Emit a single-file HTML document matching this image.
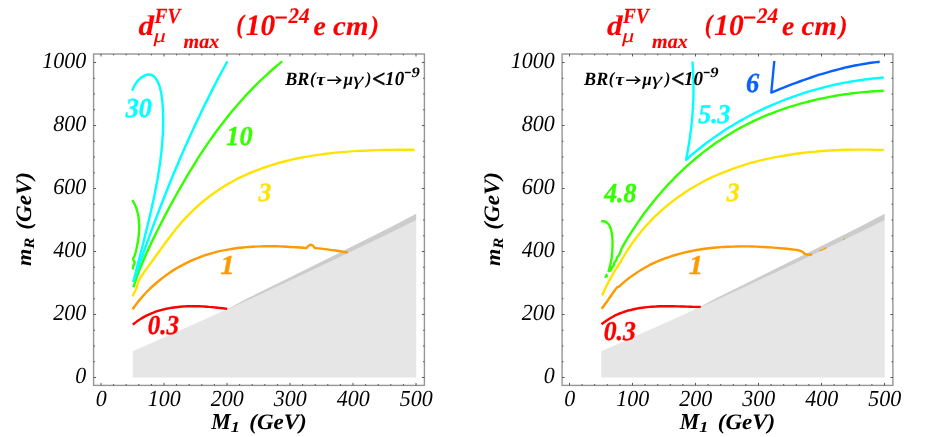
<!DOCTYPE html>
<html><head><meta charset="utf-8">
<style>
html,body{margin:0;padding:0;background:#fff;}
svg{display:block;will-change:transform;}
text{font-family:"Liberation Serif",serif;font-style:italic;fill:#000;text-rendering:geometricPrecision;}
.b{font-weight:bold;}
.n{font-weight:normal;}
.tk{font-size:23px;}
</style></head><body>
<svg width="926" height="437" viewBox="0 0 926 437">
<rect width="926" height="437" fill="#fff"/>
<g transform="translate(0,0)">
<polygon points="132.8,377.5 132.8,351.2 150.5,343.4 168.2,335.6 185.9,327.7 203.7,319.8 221.4,311.8 239.1,303.7 256.8,295.6 274.5,287.4 292.2,279.1 309.9,270.8 327.6,262.5 345.4,254.1 363.1,245.6 380.8,237.1 398.5,228.5 416.2,219.8 416.2,377.5" fill="#e6e6e6"/>
<polygon points="226.0,309.7 236.0,304.4 248.0,298.1 276.0,284.2 331.0,257.0 391.0,226.9 416.2,213.7 416.2,220.1 391.0,232.4 331.0,261.2 276.0,287.0 248.0,299.9 236.0,305.4 226.0,310.0" fill="#cccccc"/>
<path transform="translate(0,0)" d="M132.8,324.6C134.1,323.6 135.3,322.6 136.6,321.6C137.8,320.7 139.1,319.8 140.5,319.0C141.8,318.2 143.1,317.4 144.5,316.6C145.9,315.9 147.3,315.2 148.7,314.6C150.1,313.9 151.5,313.3 152.9,312.8C154.4,312.2 155.8,311.7 157.3,311.2C158.8,310.7 160.3,310.3 161.8,309.9C163.3,309.5 164.8,309.1 166.3,308.8C167.8,308.5 169.4,308.2 170.9,307.9C172.5,307.7 174.0,307.4 175.6,307.2C177.2,307.0 178.7,306.9 180.3,306.7C181.9,306.6 183.4,306.5 185.0,306.4C186.6,306.3 188.2,306.3 189.8,306.2C191.4,306.2 193.0,306.2 194.6,306.2C196.1,306.2 197.7,306.3 199.3,306.3C200.9,306.4 202.5,306.4 204.1,306.5C205.6,306.6 207.2,306.7 208.8,306.9C210.4,307.0 211.9,307.1 213.5,307.3C215.0,307.4 216.6,307.6 218.1,307.8C219.6,307.9 221.2,308.1 222.7,308.3C224.2,308.5 225.7,308.7 227.2,308.9" fill="none" stroke="#ff0000" stroke-width="2.4" stroke-linecap="butt" stroke-linejoin="round"/>
<path transform="translate(0,0)" d="M132.5,309.2C133.9,307.4 135.2,305.5 136.6,303.7C138.0,301.9 139.4,300.1 140.9,298.4C142.3,296.7 143.9,295.0 145.4,293.3C146.9,291.7 148.5,290.1 150.1,288.5C151.7,287.0 153.4,285.5 155.1,284.0C156.7,282.5 158.5,281.1 160.2,279.7C161.9,278.3 163.7,276.9 165.5,275.6C167.3,274.3 169.1,273.1 171.0,271.8C172.8,270.6 174.7,269.5 176.6,268.3C178.5,267.2 180.4,266.1 182.4,265.1C184.3,264.0 186.3,263.0 188.3,262.1C190.3,261.1 192.3,260.2 194.3,259.3C196.4,258.5 198.4,257.7 200.5,256.9C202.6,256.1 204.7,255.4 206.8,254.7C208.9,254.0 211.0,253.4 213.2,252.8C215.3,252.2 217.5,251.7 219.6,251.2C221.8,250.7 224.0,250.3 226.1,249.9C228.3,249.4 230.5,249.1 232.7,248.7C235.0,248.4 237.2,248.1 239.4,247.8C241.6,247.6 243.9,247.3 246.1,247.1C248.3,246.9 250.6,246.8 252.8,246.7C255.1,246.5 257.3,246.4 259.6,246.4C261.8,246.3 264.1,246.2 266.3,246.2C268.6,246.2 270.8,246.2 273.1,246.2C275.3,246.3 277.6,246.3 279.8,246.4C282.1,246.5 284.3,246.6 286.6,246.7C288.8,246.8 291.0,246.9 293.3,247.1C295.5,247.2 297.7,247.4 299.9,247.5C302.1,247.7 304.3,247.9 306.5,248.1L306.5,248.1C307.3,247.2 308.0,246.1 309.0,245.5C309.9,245.0 311.1,244.6 312.0,245.0C313.3,245.6 314.0,247.1 315.0,248.1L315.0,248.1C318.3,248.4 321.7,248.7 325.0,249.1C329.0,249.6 333.0,250.1 337.0,250.7C340.6,251.2 344.1,251.9 347.7,252.5" fill="none" stroke="#ff9900" stroke-width="2.4" stroke-linecap="butt" stroke-linejoin="round"/>
<path transform="translate(0,0)" d="M132.6,296.3C133.3,294.7 134.1,293.2 134.8,291.6C135.5,290.1 136.5,288.6 137.0,287.0C137.4,285.7 137.5,284.3 137.7,283.0L137.7,283.0C138.4,281.6 139.0,280.2 139.8,278.8C140.7,277.2 141.8,275.7 142.8,274.2C143.6,273.0 144.4,271.8 145.2,270.6L145.2,270.6C147.1,268.1 148.9,265.6 150.8,263.1C152.6,260.5 154.5,257.9 156.3,255.4C158.2,252.8 160.0,250.2 161.9,247.6C163.7,245.1 165.6,242.5 167.5,240.0C169.4,237.4 171.3,234.9 173.3,232.4C175.2,229.9 177.2,227.4 179.3,225.0C181.3,222.6 183.4,220.2 185.6,217.9C187.8,215.6 190.0,213.3 192.3,211.1C194.5,208.9 196.9,206.8 199.2,204.7C201.6,202.6 204.0,200.6 206.5,198.7C209.0,196.7 211.5,194.8 214.1,193.0C216.6,191.2 219.2,189.4 221.9,187.7C224.5,186.0 227.2,184.4 230.0,182.9C232.7,181.3 235.4,179.9 238.2,178.4C241.0,177.0 243.9,175.7 246.7,174.4C249.6,173.1 252.5,171.9 255.4,170.8C258.3,169.6 261.2,168.6 264.2,167.5C267.2,166.5 270.2,165.5 273.2,164.6C276.2,163.7 279.2,162.8 282.3,162.0C285.3,161.2 288.4,160.5 291.5,159.7C294.6,159.0 297.7,158.4 300.8,157.8C304.0,157.2 307.1,156.6 310.3,156.1C313.4,155.5 316.6,155.1 319.7,154.6C322.9,154.2 326.1,153.8 329.3,153.4C332.4,153.0 335.6,152.7 338.8,152.4C342.0,152.1 345.2,151.8 348.4,151.6C351.6,151.3 354.8,151.1 358.0,150.9C361.2,150.8 364.3,150.6 367.5,150.5C370.7,150.3 373.9,150.2 377.1,150.1C380.2,150.0 383.4,150.0 386.5,149.9C389.7,149.9 392.8,149.8 395.9,149.8C399.1,149.8 402.2,149.8 405.3,149.8C408.3,149.8 411.4,149.8 414.5,149.8" fill="none" stroke="#ffe300" stroke-width="2.4" stroke-linecap="butt" stroke-linejoin="round"/>
<path transform="translate(0,0)" d="M132.4,200.0C133.0,201.1 133.7,202.2 134.2,203.3C134.8,204.4 135.3,205.6 135.8,206.7C136.2,207.9 136.6,209.1 137.0,210.3C137.3,211.5 137.6,212.7 137.9,214.0C138.2,215.2 138.4,216.5 138.6,217.7C138.8,219.0 138.9,220.2 139.0,221.5C139.1,222.8 139.1,224.1 139.2,225.4C139.2,226.7 139.2,228.0 139.2,229.3C139.1,230.6 139.0,231.9 138.9,233.1C138.8,234.4 138.7,235.7 138.6,237.0C138.4,238.3 138.2,239.6 138.0,240.9C137.8,242.2 137.6,243.4 137.3,244.7C137.1,246.0 136.8,247.2 136.6,248.5C136.3,249.7 136.0,250.9 135.7,252.1C135.4,253.3 135.0,254.5 134.7,255.7L134.7,255.7C134.2,256.8 133.1,257.8 133.1,259.0C133.1,260.3 134.7,261.3 134.7,262.6C134.7,263.8 133.5,264.8 133.2,266.0C132.9,267.1 133.1,268.3 133.0,269.5" fill="none" stroke="#33ff00" stroke-width="2.4" stroke-linecap="butt" stroke-linejoin="round"/>
<path transform="translate(0,0)" d="M282.2,61.4C279.9,63.3 277.6,65.1 275.4,67.0C273.2,68.9 270.9,70.9 268.8,72.8C266.6,74.8 264.4,76.8 262.3,78.8C260.1,80.8 258.0,82.9 255.9,85.0C253.9,87.1 251.8,89.2 249.8,91.3C247.8,93.4 245.7,95.6 243.8,97.8C241.8,99.9 239.8,102.1 237.9,104.4C236.0,106.6 234.1,108.8 232.2,111.1C230.3,113.4 228.5,115.7 226.6,118.0C224.8,120.3 223.0,122.6 221.2,124.9C219.4,127.2 217.6,129.6 215.9,132.0C214.2,134.3 212.5,136.7 210.8,139.1C209.1,141.5 207.4,143.9 205.8,146.4C204.1,148.8 202.5,151.3 200.9,153.7C199.3,156.2 197.7,158.7 196.2,161.2C194.6,163.6 193.1,166.2 191.6,168.7C190.0,171.2 188.5,173.7 187.0,176.2C185.5,178.8 184.0,181.3 182.6,183.9C181.1,186.4 179.6,189.0 178.2,191.5C176.7,194.1 175.3,196.6 173.9,199.2C172.4,201.8 171.0,204.4 169.6,207.0C168.2,209.6 166.8,212.2 165.4,214.8C164.1,217.4 162.7,220.0 161.4,222.6C160.0,225.2 158.7,227.9 157.4,230.5C156.1,233.1 154.8,235.8 153.5,238.4C152.2,241.1 150.9,243.7 149.7,246.4C148.4,249.0 147.2,251.7 146.0,254.4C144.8,257.1 143.6,259.8 142.5,262.5C141.4,265.2 140.3,267.9 139.2,270.6C138.2,273.4 137.1,276.1 136.2,278.9C135.2,281.7 134.3,284.5 133.4,287.3" fill="none" stroke="#33ff00" stroke-width="2.4" stroke-linecap="butt" stroke-linejoin="round"/>
<path transform="translate(0,0)" d="M132.3,90.7C133.1,88.8 133.6,86.8 134.7,85.1C135.9,83.1 137.3,81.3 138.9,79.7C140.4,78.2 142.1,76.7 144.0,75.8C145.6,75.0 147.5,74.4 149.3,74.5C150.9,74.6 152.6,75.3 153.9,76.3C155.3,77.5 156.4,79.2 157.3,80.8C158.4,82.7 159.0,84.8 159.7,86.8C160.4,88.9 160.8,91.1 161.2,93.3C161.6,95.4 161.9,97.5 162.1,99.7C162.4,101.8 162.6,103.9 162.7,106.0C162.9,108.0 163.0,110.1 163.0,112.2C163.1,114.2 163.2,116.2 163.2,118.3C163.2,120.3 163.2,122.4 163.1,124.4C163.1,126.5 163.0,128.5 163.0,130.5C162.9,132.6 162.8,134.6 162.7,136.7C162.5,138.7 162.4,140.7 162.2,142.8C162.1,144.8 161.9,146.8 161.7,148.9C161.5,150.9 161.3,153.0 161.0,155.0C160.8,157.0 160.5,159.1 160.3,161.1C160.0,163.1 159.7,165.2 159.4,167.2C159.1,169.2 158.8,171.3 158.5,173.3C158.2,175.3 157.8,177.4 157.5,179.4C157.1,181.4 156.7,183.4 156.3,185.5C156.0,187.5 155.6,189.5 155.2,191.6C154.8,193.6 154.4,195.6 153.9,197.6C153.5,199.7 153.1,201.7 152.6,203.7C152.2,205.7 151.7,207.7 151.3,209.8C150.8,211.8 150.4,213.8 149.9,215.8C149.4,217.8 148.9,219.8 148.4,221.9C148.0,223.9 147.5,225.9 147.0,227.9C146.5,229.9 146.0,231.9 145.5,233.9C145.0,235.9 144.5,237.9 144.0,240.0C143.5,242.0 143.0,244.0 142.5,246.0C141.9,248.0 141.4,250.0 140.9,252.0C140.4,254.0 139.9,256.0 139.4,258.0C138.9,259.9 138.4,261.9 137.9,263.9C137.4,265.9 136.9,267.9 136.4,269.9C135.9,271.9 135.4,273.9 134.9,275.9C134.4,277.8 133.9,279.8 133.4,281.8" fill="none" stroke="#00ffff" stroke-width="2.4" stroke-linecap="butt" stroke-linejoin="round"/>
<path transform="translate(0,0)" d="M227.3,61.4C225.3,65.1 223.3,68.8 221.3,72.5C219.3,76.3 217.3,80.0 215.4,83.7C213.5,87.5 211.6,91.2 209.7,95.0C207.8,98.8 205.9,102.5 204.1,106.3C202.2,110.1 200.4,113.9 198.6,117.7C196.8,121.5 195.0,125.3 193.2,129.1C191.5,132.9 189.7,136.7 188.0,140.6C186.3,144.4 184.6,148.3 182.9,152.1C181.2,156.0 179.5,159.8 177.9,163.7C176.2,167.6 174.6,171.4 173.0,175.3C171.4,179.2 169.8,183.1 168.2,187.0C166.7,190.9 165.1,194.8 163.6,198.7C162.0,202.6 160.5,206.6 159.0,210.5C157.5,214.4 156.0,218.4 154.6,222.3C153.1,226.2 151.6,230.2 150.2,234.1C148.7,238.1 147.3,242.0 145.9,246.0C144.5,250.0 143.1,253.9 141.7,257.9C140.3,261.9 138.9,265.9 137.5,269.8C136.1,273.8 134.8,277.8 133.4,281.8" fill="none" stroke="#00ffff" stroke-width="2.4" stroke-linecap="butt" stroke-linejoin="round"/>
<rect x="93.6" y="54" width="330.8" height="331.4" fill="none" stroke="#969696" stroke-width="1.4"/>
<path d="M101.00,385.4v-2.5M101.00,54v2.5M113.60,385.4v-1.4M113.60,54v1.4M126.20,385.4v-1.4M126.20,54v1.4M138.80,385.4v-1.4M138.80,54v1.4M151.40,385.4v-1.4M151.40,54v1.4M164.00,385.4v-2.5M164.00,54v2.5M176.60,385.4v-1.4M176.60,54v1.4M189.20,385.4v-1.4M189.20,54v1.4M201.80,385.4v-1.4M201.80,54v1.4M214.40,385.4v-1.4M214.40,54v1.4M227.00,385.4v-2.5M227.00,54v2.5M239.60,385.4v-1.4M239.60,54v1.4M252.20,385.4v-1.4M252.20,54v1.4M264.80,385.4v-1.4M264.80,54v1.4M277.40,385.4v-1.4M277.40,54v1.4M290.00,385.4v-2.5M290.00,54v2.5M302.60,385.4v-1.4M302.60,54v1.4M315.20,385.4v-1.4M315.20,54v1.4M327.80,385.4v-1.4M327.80,54v1.4M340.40,385.4v-1.4M340.40,54v1.4M353.00,385.4v-2.5M353.00,54v2.5M365.60,385.4v-1.4M365.60,54v1.4M378.20,385.4v-1.4M378.20,54v1.4M390.80,385.4v-1.4M390.80,54v1.4M403.40,385.4v-1.4M403.40,54v1.4M416.00,385.4v-2.5M416.00,54v2.5M93.6,377.50h2.5M424.4,377.50h-2.5M93.6,361.75h1.4M424.4,361.75h-1.4M93.6,346.00h1.4M424.4,346.00h-1.4M93.6,330.25h1.4M424.4,330.25h-1.4M93.6,314.50h2.5M424.4,314.50h-2.5M93.6,298.75h1.4M424.4,298.75h-1.4M93.6,283.00h1.4M424.4,283.00h-1.4M93.6,267.25h1.4M424.4,267.25h-1.4M93.6,251.50h2.5M424.4,251.50h-2.5M93.6,235.75h1.4M424.4,235.75h-1.4M93.6,220.00h1.4M424.4,220.00h-1.4M93.6,204.25h1.4M424.4,204.25h-1.4M93.6,188.50h2.5M424.4,188.50h-2.5M93.6,172.75h1.4M424.4,172.75h-1.4M93.6,157.00h1.4M424.4,157.00h-1.4M93.6,141.25h1.4M424.4,141.25h-1.4M93.6,125.50h2.5M424.4,125.50h-2.5M93.6,109.75h1.4M424.4,109.75h-1.4M93.6,94.00h1.4M424.4,94.00h-1.4M93.6,78.25h1.4M424.4,78.25h-1.4M93.6,62.50h2.5M424.4,62.50h-2.5" stroke="#333" stroke-width="0.8" fill="none"/>
<text transform="translate(101.2,405.8) scale(0.955,1)" class="n tk" text-anchor="middle">0</text>
<text transform="translate(164.2,405.8) scale(0.955,1)" class="n tk" text-anchor="middle">100</text>
<text transform="translate(227.2,405.8) scale(0.955,1)" class="n tk" text-anchor="middle">200</text>
<text transform="translate(290.2,405.8) scale(0.955,1)" class="n tk" text-anchor="middle">300</text>
<text transform="translate(353.2,405.8) scale(0.955,1)" class="n tk" text-anchor="middle">400</text>
<text transform="translate(416.2,405.8) scale(0.955,1)" class="n tk" text-anchor="middle">500</text>
<text transform="translate(86.2,383.0) scale(0.955,1)" class="n tk" text-anchor="end">0</text>
<text transform="translate(86.2,320.0) scale(0.955,1)" class="n tk" text-anchor="end">200</text>
<text transform="translate(86.2,257.0) scale(0.955,1)" class="n tk" text-anchor="end">400</text>
<text transform="translate(86.2,194.0) scale(0.955,1)" class="n tk" text-anchor="end">600</text>
<text transform="translate(86.2,131.0) scale(0.955,1)" class="n tk" text-anchor="end">800</text>
<text transform="translate(86.2,68.0) scale(0.955,1)" class="n tk" text-anchor="end">1000</text>
<text class="b" transform="translate(211.23,429.00) scale(0.963,1)" style="font-size:22.77px">M</text>
<text class="b" transform="translate(230.85,431.80) scale(1.188,1)" style="font-size:15.27px">1</text>
<text class="b" transform="translate(249.25,428.80) scale(1.046,1)" style="font-size:22.00px">(GeV)</text>
<g transform="rotate(-90)">
<text class="b" transform="translate(-265.95,31.10) scale(1.056,1)" style="font-size:21.06px">m</text>
<text class="b" transform="translate(-248.80,34.30) scale(1.152,1)" style="font-size:14.46px">R</text>
<text class="b" transform="translate(-229.65,30.60) scale(1.048,1)" style="font-size:22.00px">(GeV)</text>
</g>
<text class="b" transform="translate(138.49,35.02) scale(1.103,1)" style="font-size:28.29px;fill:#ff0000;stroke:#ff0000;stroke-width:0.15px">d</text>
<text class="b" transform="translate(154.50,22.98) scale(0.901,1)" style="font-size:21.49px;fill:#ff0000;stroke:#ff0000;stroke-width:0.15px">FV</text>
<text class="n" transform="translate(153.60,41.56) scale(1.271,1)" style="font-size:19.25px;fill:#ff0000;stroke:#ff0000;stroke-width:0.1px">μ</text>
<text class="b" transform="translate(183.60,47.90) scale(0.993,1)" style="font-size:20.21px;fill:#ff0000;stroke:#ff0000;stroke-width:0.15px">max</text>
<text class="b" transform="translate(236.34,33.32) scale(0.875,1)" style="font-size:26.56px;fill:#ff0000;stroke:#ff0000;stroke-width:0.15px">(</text>
<text class="b" transform="translate(245.77,35.00) scale(0.990,1)" style="font-size:29.63px;fill:#ff0000;stroke:#ff0000;stroke-width:0.15px">10</text>
<rect x="275.5" y="16.5" width="11.3" height="2.1" fill="#ff0000"/>
<text class="b" transform="translate(288.41,23.30) scale(0.955,1)" style="font-size:22.12px;fill:#ff0000;stroke:#ff0000;stroke-width:0.15px">24</text>
<text class="b" transform="translate(313.61,34.93) scale(1.011,1)" style="font-size:27.29px;fill:#ff0000;stroke:#ff0000;stroke-width:0.15px">e</text>
<text class="b" transform="translate(333.07,34.93) scale(1.058,1)" style="font-size:27.29px;fill:#ff0000;stroke:#ff0000;stroke-width:0.15px">cm</text>
<text class="b" transform="translate(370.61,33.67) scale(0.969,1)" style="font-size:26.33px;fill:#ff0000;stroke:#ff0000;stroke-width:0.15px">)</text>
<text class="b" transform="translate(285.18,84.70) scale(0.963,1)" style="font-size:18.78px">BR</text>
<text class="b" transform="translate(309.88,84.06) scale(0.950,1)" style="font-size:17.33px">(</text>
<text class="b" transform="translate(316.30,84.62) scale(1.122,1)" style="font-size:17.63px">τ</text>
<path transform="translate(-298.9,0)" d="M626.2,80.15H639.2M635.1,76.5L639.7,80.15L635.1,83.8" fill="none" stroke="#000" stroke-width="1.45" stroke-linejoin="miter"/>
<text class="b" transform="translate(343.67,84.91) scale(0.921,1)" style="font-size:18.06px">μ</text>
<text class="n" transform="translate(352.91,84.88) scale(1.450,1)" style="font-size:18.20px">γ</text>
<text class="b" transform="translate(366.10,84.06) scale(0.920,1)" style="font-size:17.33px">)</text>
<text class="b" transform="translate(372.02,87.19) scale(0.960,1)" style="font-size:24.65px;fill:#000;stroke:#000;stroke-width:0.5px">&lt;</text>
<text class="b" transform="translate(385.12,85.30) scale(0.960,1)" style="font-size:19.85px">10</text>
<rect x="404.80000000000007" y="71.8" width="6" height="1.4" fill="#000"/>
<text class="b" transform="translate(411.45,76.86) scale(1.144,1)" style="font-size:14.48px">9</text>
<text class="b" transform="translate(147.72,333.79) scale(0.916,1)" style="font-size:27.35px;fill:#ff0000;stroke:#ff0000;stroke-width:0.35px">0.3</text>
<text class="b" transform="translate(220.18,274.20) scale(1.054,1)" style="font-size:27.33px;fill:#ff9900;stroke:#ff9900;stroke-width:0.35px">1</text>
<text class="b" transform="translate(258.53,201.14) scale(0.970,1)" style="font-size:26.42px;fill:#ffe300;stroke:#ffe300;stroke-width:0.35px">3</text>
<text class="b" transform="translate(226.34,145.03) scale(0.964,1)" style="font-size:27.26px;fill:#33ff00;stroke:#33ff00;stroke-width:0.35px">10</text>
<text class="b" transform="translate(125.73,117.02) scale(0.951,1)" style="font-size:27.56px;fill:#00ffff;stroke:#00ffff;stroke-width:0.35px">30</text>
</g>
<g transform="translate(468.5,0)">
<polygon points="132.8,377.5 132.8,351.2 150.5,343.4 168.2,335.6 185.9,327.7 203.7,319.8 221.4,311.8 239.1,303.7 256.8,295.6 274.5,287.4 292.2,279.1 309.9,270.8 327.6,262.5 345.4,254.1 363.1,245.6 380.8,237.1 398.5,228.5 416.2,219.8 416.2,377.5" fill="#e6e6e6"/>
<polygon points="226.0,309.7 236.0,304.4 248.0,298.1 276.0,284.2 331.0,257.0 391.0,226.9 416.2,213.7 416.2,220.1 391.0,232.4 331.0,261.2 276.0,287.0 248.0,299.9 236.0,305.4 226.0,310.0" fill="#cccccc"/>
<path transform="translate(0.5,0)" d="M132.5,324.3C133.7,323.4 134.9,322.4 136.2,321.5C137.4,320.6 138.7,319.7 140.0,318.9C141.3,318.1 142.6,317.4 143.9,316.7C145.2,316.0 146.5,315.3 147.9,314.7C149.2,314.1 150.6,313.5 152.0,313.0C153.3,312.5 154.7,312.0 156.1,311.5C157.5,311.1 158.9,310.6 160.4,310.3C161.8,309.9 163.2,309.5 164.7,309.2C166.1,308.9 167.6,308.6 169.0,308.3C170.5,308.1 171.9,307.9 173.4,307.7C174.9,307.5 176.4,307.3 177.9,307.1C179.4,307.0 180.9,306.8 182.3,306.7C183.9,306.6 185.4,306.5 186.9,306.5C188.4,306.4 189.9,306.3 191.4,306.3C192.9,306.3 194.4,306.2 195.9,306.2C197.4,306.2 199.0,306.2 200.5,306.2C202.0,306.2 203.5,306.3 205.0,306.3C206.5,306.3 208.0,306.4 209.6,306.4C211.1,306.4 212.6,306.5 214.1,306.5C215.6,306.6 217.1,306.6 218.6,306.6C220.0,306.7 221.5,306.7 223.0,306.8C224.5,306.8 226.0,306.8 227.4,306.9C228.9,306.9 230.3,306.9 231.8,306.9" fill="none" stroke="#ff0000" stroke-width="2.4" stroke-linecap="butt" stroke-linejoin="round"/>
<path transform="translate(0.5,0)" d="M132.6,308.8C134.4,306.4 136.2,304.0 138.0,301.5C139.5,299.4 141.0,297.2 142.5,295.0C144.0,292.9 145.5,290.7 147.0,288.6L147.0,288.6C147.5,288.1 147.9,287.4 148.5,287.0C148.9,286.7 149.5,286.7 150.0,286.6L150.0,286.6C151.8,285.0 153.5,283.4 155.3,281.8C157.1,280.3 159.0,278.9 160.9,277.4C162.7,276.0 164.6,274.7 166.6,273.4C168.5,272.1 170.4,270.9 172.4,269.7C174.4,268.5 176.4,267.4 178.5,266.3C180.5,265.2 182.5,264.2 184.6,263.2C186.7,262.2 188.8,261.3 190.9,260.4C193.0,259.6 195.2,258.7 197.3,257.9C199.5,257.2 201.7,256.4 203.9,255.7C206.0,255.1 208.3,254.4 210.5,253.8C212.7,253.2 215.0,252.6 217.2,252.1C219.5,251.6 221.7,251.1 224.0,250.7C226.3,250.2 228.6,249.8 230.9,249.5C233.2,249.1 235.5,248.8 237.8,248.5C240.1,248.2 242.4,247.9 244.8,247.7C247.1,247.5 249.4,247.3 251.8,247.1C254.1,246.9 256.5,246.8 258.8,246.7C261.2,246.6 263.5,246.5 265.9,246.5C268.2,246.4 270.6,246.4 273.0,246.4C275.3,246.4 277.7,246.4 280.0,246.4C282.4,246.5 284.7,246.5 287.1,246.6C289.4,246.7 291.8,246.8 294.1,247.0C296.4,247.1 298.8,247.2 301.1,247.4C303.4,247.6 305.7,247.7 308.0,247.9C310.3,248.1 312.6,248.3 314.9,248.5C317.2,248.8 319.5,249.0 321.8,249.2C324.0,249.5 326.2,249.7 328.5,250.0L328.5,250.0C329.8,250.4 331.3,250.7 332.5,251.3C334.1,252.1 335.3,253.9 337.0,254.4C339.0,255.0 341.1,254.5 343.2,254.6" fill="none" stroke="#ff9900" stroke-width="2.4" stroke-linecap="butt" stroke-linejoin="round"/>
<path transform="translate(0.5,0)" d="M133.2,295.6C133.6,294.7 133.9,293.7 134.3,292.8C134.7,291.9 135.1,291.0 135.5,290.1C135.9,289.2 136.4,288.3 136.8,287.4C137.2,286.5 137.7,285.6 138.1,284.7C138.6,283.8 139.0,282.9 139.5,282.0C140.0,281.1 140.4,280.3 140.9,279.4C141.4,278.5 141.9,277.6 142.4,276.8C142.9,275.9 143.4,275.0 143.9,274.2C144.4,273.3 144.9,272.5 145.4,271.6C145.9,270.8 146.4,269.9 147.0,269.1C147.5,268.2 148.0,267.4 148.6,266.5C149.1,265.7 149.6,264.8 150.2,264.0C150.7,263.2 151.3,262.3 151.8,261.5L151.8,261.5C153.4,258.7 155.0,255.8 156.7,253.0C158.4,250.2 160.2,247.5 162.1,244.8C163.9,242.1 165.8,239.5 167.8,236.9C169.8,234.3 171.9,231.8 174.0,229.3C176.1,226.9 178.2,224.4 180.5,222.1C182.7,219.7 185.0,217.4 187.3,215.2C189.7,213.0 192.1,210.8 194.5,208.7C196.9,206.6 199.4,204.5 202.0,202.5C204.5,200.5 207.1,198.6 209.7,196.7C212.3,194.8 215.0,193.0 217.7,191.2C220.4,189.5 223.2,187.8 226.0,186.2C228.8,184.6 231.6,183.0 234.4,181.5C237.3,180.0 240.2,178.6 243.1,177.2C246.0,175.9 249.0,174.6 251.9,173.3C254.9,172.1 257.9,170.9 260.9,169.8C264.0,168.7 267.0,167.6 270.1,166.6C273.2,165.6 276.2,164.6 279.4,163.7C282.5,162.8 285.6,161.9 288.8,161.1C291.9,160.3 295.1,159.6 298.3,158.9C301.5,158.2 304.7,157.5 307.9,156.9C311.1,156.3 314.3,155.7 317.5,155.2C320.8,154.7 324.0,154.2 327.2,153.7C330.5,153.3 333.8,152.9 337.0,152.5C340.3,152.2 343.5,151.8 346.8,151.6C350.1,151.3 353.3,151.0 356.6,150.8C359.9,150.6 363.1,150.4 366.4,150.2C369.7,150.1 372.9,149.9 376.2,149.8C379.4,149.7 382.7,149.7 385.9,149.6C389.2,149.6 392.4,149.6 395.6,149.6C398.8,149.6 402.0,149.6 405.3,149.7C408.4,149.7 411.6,149.8 414.8,149.9" fill="none" stroke="#ffe300" stroke-width="2.4" stroke-linecap="butt" stroke-linejoin="round"/>
<path transform="translate(0.5,0)" d="M132.2,221.3C133.0,221.3 133.9,221.2 134.7,221.3C135.4,221.4 136.1,221.6 136.7,221.9C137.3,222.2 137.9,222.6 138.4,223.1C139.0,223.6 139.4,224.1 139.8,224.7C140.2,225.3 140.6,226.0 140.9,226.6C141.3,227.4 141.5,228.1 141.8,228.8C142.1,229.6 142.3,230.4 142.4,231.2C142.6,232.1 142.8,232.9 142.9,233.8C143.0,234.7 143.1,235.5 143.2,236.4C143.3,237.3 143.4,238.2 143.4,239.1C143.5,240.0 143.5,240.9 143.5,241.8C143.5,242.7 143.5,243.6 143.5,244.5C143.5,245.4 143.5,246.2 143.5,247.1C143.4,247.9 143.4,248.7 143.4,249.6C143.3,250.4 143.3,251.2 143.2,252.0C143.2,252.8 143.1,253.6 143.0,254.4C142.9,255.2 142.9,256.0 142.8,256.8C142.7,257.6 142.5,258.4 142.4,259.1C142.3,259.9 142.2,260.7 142.0,261.5C141.9,262.3 141.7,263.1 141.5,263.9C141.4,264.7 141.2,265.5 141.0,266.3C140.8,267.1 140.6,267.9 140.3,268.7C140.1,269.5 139.8,270.4 139.6,271.2L139.6,271.2L141.8,270.4L141.8,270.4C142.3,269.3 142.6,268.1 143.2,267.0C143.5,266.6 144.2,266.5 144.4,266.0C144.9,264.9 144.9,263.7 145.4,262.6C145.8,261.8 146.7,261.2 147.1,260.4C147.6,259.4 147.7,258.2 148.2,257.2C148.7,256.3 149.7,255.7 150.2,254.8C151.3,252.7 151.9,250.3 152.8,248.1L152.8,248.1C154.1,245.8 155.4,243.6 156.7,241.3C158.0,239.1 159.4,236.9 160.8,234.7C162.2,232.5 163.6,230.3 165.0,228.1C166.5,225.9 167.9,223.7 169.4,221.6C170.9,219.4 172.4,217.3 173.9,215.2C175.5,213.1 177.0,211.0 178.6,208.9C180.2,206.8 181.8,204.8 183.5,202.7C185.1,200.7 186.8,198.7 188.4,196.7C190.1,194.7 191.8,192.7 193.6,190.7C195.3,188.8 197.0,186.8 198.8,184.9C200.6,183.0 202.4,181.1 204.2,179.3C206.0,177.4 207.9,175.5 209.8,173.7C211.6,171.9 213.5,170.1 215.4,168.3C217.3,166.6 219.3,164.8 221.2,163.1C223.2,161.4 225.2,159.7 227.2,158.0C229.2,156.4 231.2,154.7 233.2,153.1C235.3,151.5 237.3,149.9 239.4,148.4C241.5,146.8 243.6,145.3 245.7,143.8C247.8,142.3 250.0,140.9 252.1,139.4C254.3,138.0 256.5,136.6 258.7,135.2C260.9,133.9 263.1,132.5 265.4,131.2C267.6,129.9 269.9,128.7 272.1,127.4C274.4,126.2 276.7,125.0 279.0,123.8C281.3,122.7 283.7,121.5 286.0,120.4C288.4,119.3 290.7,118.3 293.1,117.2C295.5,116.2 297.9,115.2 300.3,114.2C302.7,113.3 305.1,112.3 307.6,111.4C310.0,110.5 312.5,109.6 314.9,108.8C317.4,108.0 319.9,107.1 322.4,106.4C324.9,105.6 327.4,104.8 329.9,104.1C332.4,103.4 334.9,102.7 337.4,102.1C339.9,101.4 342.5,100.8 345.0,100.2C347.6,99.6 350.1,99.0 352.7,98.5C355.2,97.9 357.8,97.4 360.4,96.9C362.9,96.4 365.5,96.0 368.1,95.5C370.7,95.1 373.3,94.7 375.9,94.3C378.4,94.0 381.0,93.6 383.6,93.3C386.2,93.0 388.8,92.7 391.4,92.4C394.0,92.1 396.6,91.9 399.2,91.7C401.8,91.4 404.4,91.3 407.0,91.1C409.6,90.9 412.2,90.8 414.8,90.7" fill="none" stroke="#33ff00" stroke-width="2.4" stroke-linecap="butt" stroke-linejoin="round"/>
<path transform="translate(0.5,0)" d="M136.2,277.2 L137.6,274.2 L138.4,276.2 Z" fill="none" stroke="#33ff00" stroke-width="1.6" stroke-linecap="butt" stroke-linejoin="round"/>
<path transform="translate(0.5,0)" d="M350.7,250.7 L354.5,249.5 L357.5,247.5" fill="none" stroke="#ff9900" stroke-width="1.3" stroke-linecap="butt" stroke-linejoin="round"/>
<path transform="translate(0.5,0)" d="M373.8,239.8 L376.2,238.8" fill="none" stroke="#ff9900" stroke-width="0.9" stroke-linecap="butt" stroke-linejoin="round"/>
<path transform="translate(0.5,0)" d="M223.4,61.5C223.6,64.0 223.8,66.6 224.0,69.1C224.1,71.6 224.2,74.1 224.3,76.7C224.4,79.2 224.5,81.7 224.5,84.3C224.5,86.8 224.5,89.3 224.5,91.9C224.5,94.4 224.4,96.9 224.3,99.5C224.2,102.0 224.1,104.5 224.0,107.1C223.8,109.6 223.6,112.1 223.4,114.7C223.2,117.2 223.0,119.7 222.8,122.2C222.5,124.8 222.2,127.3 221.9,129.8C221.6,132.3 221.3,134.8 220.9,137.3C220.6,139.8 220.2,142.3 219.8,144.8C219.4,147.3 219.0,149.8 218.5,152.3C218.1,154.8 217.6,157.3 217.1,159.8L217.1,159.8C219.0,158.1 220.9,156.5 222.8,154.8C224.7,153.2 226.6,151.6 228.6,150.0C230.5,148.4 232.5,146.9 234.5,145.3C236.4,143.8 238.4,142.3 240.5,140.8C242.5,139.3 244.5,137.9 246.6,136.4C248.6,135.0 250.7,133.6 252.8,132.2C254.9,130.8 257.0,129.4 259.1,128.1C261.2,126.8 263.4,125.5 265.5,124.2C267.7,122.9 269.8,121.7 272.0,120.4C274.2,119.2 276.4,118.0 278.6,116.8C280.8,115.6 283.0,114.5 285.2,113.3C287.5,112.2 289.7,111.1 292.0,110.0C294.2,108.9 296.5,107.9 298.8,106.9C301.1,105.8 303.4,104.8 305.7,103.9C308.0,102.9 310.3,101.9 312.6,101.0C314.9,100.1 317.3,99.2 319.6,98.3C322.0,97.4 324.3,96.6 326.7,95.8C329.1,94.9 331.4,94.2 333.8,93.4C336.2,92.6 338.6,91.9 341.0,91.2C343.4,90.4 345.8,89.7 348.2,89.1C350.6,88.4 353.1,87.8 355.5,87.2C357.9,86.6 360.4,86.0 362.8,85.4C365.2,84.8 367.7,84.3 370.1,83.8C372.6,83.3 375.1,82.8 377.5,82.4C380.0,81.9 382.5,81.5 384.9,81.1C387.4,80.7 389.9,80.3 392.4,80.0C394.9,79.6 397.3,79.3 399.8,79.0C402.3,78.7 404.8,78.4 407.3,78.2C409.8,78.0 412.3,77.8 414.8,77.5" fill="none" stroke="#00ffff" stroke-width="2.4" stroke-linecap="butt" stroke-linejoin="round"/>
<path transform="translate(0.5,0)" d="M305.3,61.0L302.3,92.3L302.3,92.6C304.3,91.8 306.4,90.9 308.4,90.1C310.5,89.2 312.5,88.4 314.6,87.6C316.7,86.7 318.7,85.9 320.8,85.1C322.9,84.3 324.9,83.6 327.0,82.8C329.1,82.0 331.2,81.2 333.3,80.5C335.4,79.7 337.5,79.0 339.6,78.3C341.7,77.6 343.8,76.9 345.9,76.2C348.0,75.5 350.1,74.8 352.2,74.2C354.3,73.5 356.5,72.9 358.6,72.3C360.7,71.6 362.9,71.0 365.0,70.5C367.1,69.9 369.3,69.3 371.4,68.8C373.6,68.3 375.7,67.7 377.9,67.2C380.1,66.8 382.2,66.3 384.4,65.8C386.6,65.4 388.7,65.0 390.9,64.6C393.1,64.2 395.3,63.8 397.5,63.5C399.7,63.1 401.9,62.8 404.1,62.5C406.3,62.2 408.5,62.0 410.7,61.7" fill="none" stroke="#0860ff" stroke-width="2.4" stroke-linecap="butt" stroke-linejoin="round"/>
<rect x="93.6" y="54" width="330.8" height="331.4" fill="none" stroke="#969696" stroke-width="1.4"/>
<path d="M101.00,385.4v-2.5M101.00,54v2.5M113.60,385.4v-1.4M113.60,54v1.4M126.20,385.4v-1.4M126.20,54v1.4M138.80,385.4v-1.4M138.80,54v1.4M151.40,385.4v-1.4M151.40,54v1.4M164.00,385.4v-2.5M164.00,54v2.5M176.60,385.4v-1.4M176.60,54v1.4M189.20,385.4v-1.4M189.20,54v1.4M201.80,385.4v-1.4M201.80,54v1.4M214.40,385.4v-1.4M214.40,54v1.4M227.00,385.4v-2.5M227.00,54v2.5M239.60,385.4v-1.4M239.60,54v1.4M252.20,385.4v-1.4M252.20,54v1.4M264.80,385.4v-1.4M264.80,54v1.4M277.40,385.4v-1.4M277.40,54v1.4M290.00,385.4v-2.5M290.00,54v2.5M302.60,385.4v-1.4M302.60,54v1.4M315.20,385.4v-1.4M315.20,54v1.4M327.80,385.4v-1.4M327.80,54v1.4M340.40,385.4v-1.4M340.40,54v1.4M353.00,385.4v-2.5M353.00,54v2.5M365.60,385.4v-1.4M365.60,54v1.4M378.20,385.4v-1.4M378.20,54v1.4M390.80,385.4v-1.4M390.80,54v1.4M403.40,385.4v-1.4M403.40,54v1.4M416.00,385.4v-2.5M416.00,54v2.5M93.6,377.50h2.5M424.4,377.50h-2.5M93.6,361.75h1.4M424.4,361.75h-1.4M93.6,346.00h1.4M424.4,346.00h-1.4M93.6,330.25h1.4M424.4,330.25h-1.4M93.6,314.50h2.5M424.4,314.50h-2.5M93.6,298.75h1.4M424.4,298.75h-1.4M93.6,283.00h1.4M424.4,283.00h-1.4M93.6,267.25h1.4M424.4,267.25h-1.4M93.6,251.50h2.5M424.4,251.50h-2.5M93.6,235.75h1.4M424.4,235.75h-1.4M93.6,220.00h1.4M424.4,220.00h-1.4M93.6,204.25h1.4M424.4,204.25h-1.4M93.6,188.50h2.5M424.4,188.50h-2.5M93.6,172.75h1.4M424.4,172.75h-1.4M93.6,157.00h1.4M424.4,157.00h-1.4M93.6,141.25h1.4M424.4,141.25h-1.4M93.6,125.50h2.5M424.4,125.50h-2.5M93.6,109.75h1.4M424.4,109.75h-1.4M93.6,94.00h1.4M424.4,94.00h-1.4M93.6,78.25h1.4M424.4,78.25h-1.4M93.6,62.50h2.5M424.4,62.50h-2.5" stroke="#333" stroke-width="0.8" fill="none"/>
<text transform="translate(101.2,405.8) scale(0.955,1)" class="n tk" text-anchor="middle">0</text>
<text transform="translate(164.2,405.8) scale(0.955,1)" class="n tk" text-anchor="middle">100</text>
<text transform="translate(227.2,405.8) scale(0.955,1)" class="n tk" text-anchor="middle">200</text>
<text transform="translate(290.2,405.8) scale(0.955,1)" class="n tk" text-anchor="middle">300</text>
<text transform="translate(353.2,405.8) scale(0.955,1)" class="n tk" text-anchor="middle">400</text>
<text transform="translate(416.2,405.8) scale(0.955,1)" class="n tk" text-anchor="middle">500</text>
<text transform="translate(86.2,383.0) scale(0.955,1)" class="n tk" text-anchor="end">0</text>
<text transform="translate(86.2,320.0) scale(0.955,1)" class="n tk" text-anchor="end">200</text>
<text transform="translate(86.2,257.0) scale(0.955,1)" class="n tk" text-anchor="end">400</text>
<text transform="translate(86.2,194.0) scale(0.955,1)" class="n tk" text-anchor="end">600</text>
<text transform="translate(86.2,131.0) scale(0.955,1)" class="n tk" text-anchor="end">800</text>
<text transform="translate(86.2,68.0) scale(0.955,1)" class="n tk" text-anchor="end">1000</text>
<text class="b" transform="translate(211.23,429.00) scale(0.963,1)" style="font-size:22.77px">M</text>
<text class="b" transform="translate(230.85,431.80) scale(1.188,1)" style="font-size:15.27px">1</text>
<text class="b" transform="translate(249.25,428.80) scale(1.046,1)" style="font-size:22.00px">(GeV)</text>
<g transform="rotate(-90)">
<text class="b" transform="translate(-265.95,31.10) scale(1.056,1)" style="font-size:21.06px">m</text>
<text class="b" transform="translate(-248.80,34.30) scale(1.152,1)" style="font-size:14.46px">R</text>
<text class="b" transform="translate(-229.65,30.60) scale(1.048,1)" style="font-size:22.00px">(GeV)</text>
</g>
<text class="b" transform="translate(138.49,35.02) scale(1.103,1)" style="font-size:28.29px;fill:#ff0000;stroke:#ff0000;stroke-width:0.15px">d</text>
<text class="b" transform="translate(154.50,22.98) scale(0.901,1)" style="font-size:21.49px;fill:#ff0000;stroke:#ff0000;stroke-width:0.15px">FV</text>
<text class="n" transform="translate(153.60,41.56) scale(1.271,1)" style="font-size:19.25px;fill:#ff0000;stroke:#ff0000;stroke-width:0.1px">μ</text>
<text class="b" transform="translate(183.60,47.90) scale(0.993,1)" style="font-size:20.21px;fill:#ff0000;stroke:#ff0000;stroke-width:0.15px">max</text>
<text class="b" transform="translate(236.34,33.32) scale(0.875,1)" style="font-size:26.56px;fill:#ff0000;stroke:#ff0000;stroke-width:0.15px">(</text>
<text class="b" transform="translate(245.77,35.00) scale(0.990,1)" style="font-size:29.63px;fill:#ff0000;stroke:#ff0000;stroke-width:0.15px">10</text>
<rect x="275.5" y="16.5" width="11.3" height="2.1" fill="#ff0000"/>
<text class="b" transform="translate(288.41,23.30) scale(0.955,1)" style="font-size:22.12px;fill:#ff0000;stroke:#ff0000;stroke-width:0.15px">24</text>
<text class="b" transform="translate(313.61,34.93) scale(1.011,1)" style="font-size:27.29px;fill:#ff0000;stroke:#ff0000;stroke-width:0.15px">e</text>
<text class="b" transform="translate(333.07,34.93) scale(1.058,1)" style="font-size:27.29px;fill:#ff0000;stroke:#ff0000;stroke-width:0.15px">cm</text>
<text class="b" transform="translate(370.61,33.67) scale(0.969,1)" style="font-size:26.33px;fill:#ff0000;stroke:#ff0000;stroke-width:0.15px">)</text>
<text class="b" transform="translate(115.58,84.70) scale(0.963,1)" style="font-size:18.78px">BR</text>
<text class="b" transform="translate(140.28,84.06) scale(0.950,1)" style="font-size:17.33px">(</text>
<text class="b" transform="translate(146.70,84.62) scale(1.122,1)" style="font-size:17.63px">τ</text>
<path transform="translate(-468.5,0)" d="M626.2,80.15H639.2M635.1,76.5L639.7,80.15L635.1,83.8" fill="none" stroke="#000" stroke-width="1.45" stroke-linejoin="miter"/>
<text class="b" transform="translate(174.07,84.91) scale(0.921,1)" style="font-size:18.06px">μ</text>
<text class="n" transform="translate(183.31,84.88) scale(1.450,1)" style="font-size:18.20px">γ</text>
<text class="b" transform="translate(196.50,84.06) scale(0.920,1)" style="font-size:17.33px">)</text>
<text class="b" transform="translate(202.42,87.19) scale(0.960,1)" style="font-size:24.65px;fill:#000;stroke:#000;stroke-width:0.5px">&lt;</text>
<text class="b" transform="translate(215.52,85.30) scale(0.960,1)" style="font-size:19.85px">10</text>
<rect x="235.20000000000005" y="71.8" width="6" height="1.4" fill="#000"/>
<text class="b" transform="translate(241.85,76.86) scale(1.144,1)" style="font-size:14.48px">9</text>
<text class="b" transform="translate(135.20,340.09) scale(0.945,1)" style="font-size:27.21px;fill:#ff0000;stroke:#ff0000;stroke-width:0.35px">0.3</text>
<text class="b" transform="translate(220.18,274.20) scale(1.054,1)" style="font-size:27.33px;fill:#ff9900;stroke:#ff9900;stroke-width:0.35px">1</text>
<text class="b" transform="translate(258.23,201.14) scale(0.970,1)" style="font-size:26.42px;fill:#ffe300;stroke:#ffe300;stroke-width:0.35px">3</text>
<text class="b" transform="translate(135.69,201.59) scale(0.945,1)" style="font-size:27.35px;fill:#33ff00;stroke:#33ff00;stroke-width:0.35px">4.8</text>
<text class="b" transform="translate(229.84,122.89) scale(0.942,1)" style="font-size:27.26px;fill:#00ffff;stroke:#00ffff;stroke-width:0.35px">5.3</text>
<text class="b" transform="translate(277.47,91.82) scale(0.958,1)" style="font-size:27.61px;fill:#0860ff;stroke:#0860ff;stroke-width:0.35px">6</text>
</g>
</svg>
</body></html>
